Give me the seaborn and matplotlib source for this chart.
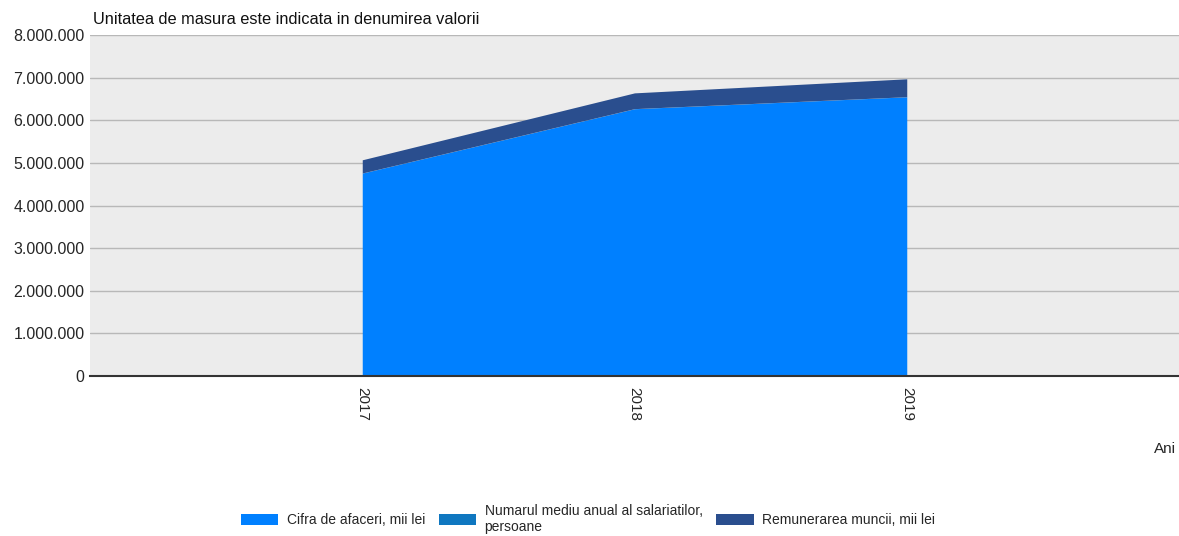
import numpy as np
import pandas as pd
import matplotlib
matplotlib.use("Agg")
import matplotlib.pyplot as plt
import seaborn as sns
from matplotlib.ticker import FuncFormatter
from matplotlib.patches import Patch

years = [2017, 2018, 2019]
cifra_afaceri = [4760000, 6270000, 6550000]
numar_salariati = [2200, 2400, 2500]
remunerare = [310000, 370000, 420000]

series_names = ["Cifra de afaceri, mii lei",
                "Numarul mediu anual al salariatilor,\npersoane",
                "Remunerarea muncii, mii lei"]
colors = ["#0080ff", "#0f77c0", "#2a4e8e"]

df = pd.DataFrame({"An": years,
                   series_names[0]: cifra_afaceri,
                   series_names[1]: numar_salariati,
                   series_names[2]: remunerare})

sns.set_theme(style="white")
plt.rcParams["font.family"] = ["Liberation Sans", "DejaVu Sans"]

fig = plt.figure(figsize=(11.79, 5.36), dpi=100)
ax = fig.add_axes([90 / 1179, 1 - 376 / 536, 1 - 90 / 1179, 341 / 536])
ax.set_facecolor("#ececec")

ax.stackplot(df["An"], [df[c] for c in series_names], colors=colors, linewidth=0)

ax.set_xlim(2016, 2020)
ax.set_ylim(0, 8000000)
ax.set_yticks(np.arange(0, 8000001, 1000000))
ax.yaxis.set_major_formatter(FuncFormatter(lambda v, p: f"{int(v):,}".replace(",", ".")))
ax.set_xticks(years)
ax.set_xticklabels([str(y) for y in years], rotation=270, fontsize=11)
ax.tick_params(axis="y", labelsize=11.5, length=0, pad=4)
ax.tick_params(axis="x", length=0, pad=8)
ax.grid(axis="y", color="#b8b8b8", linewidth=1)
ax.set_axisbelow(True)
for s in ["top", "right", "left"]:
    ax.spines[s].set_visible(False)
ax.spines["bottom"].set_color("#333333")
ax.spines["bottom"].set_linewidth(1.5)
ax.spines["bottom"].set_zorder(5)

fig.text(93 / 1179, 1 - 20 / 536, "Unitatea de masura este indicata in denumirea valorii",
         fontsize=11.8, color="#111111", va="center", ha="left")
fig.text(1176 / 1179, 1 - 449 / 536, "Ani", fontsize=11, va="center", ha="right")

handles = [Patch(facecolor=c, edgecolor="none") for c in colors]
fig.legend(handles, series_names, loc="center", bbox_to_anchor=(588 / 1179, 1 - 519 / 536),
           ncol=3, frameon=False, fontsize=10, handlelength=2.7, handleheight=0.9,
           columnspacing=1.0, handletextpad=0.6, labelspacing=0.1)

fig.savefig("out.png", dpi=100)
